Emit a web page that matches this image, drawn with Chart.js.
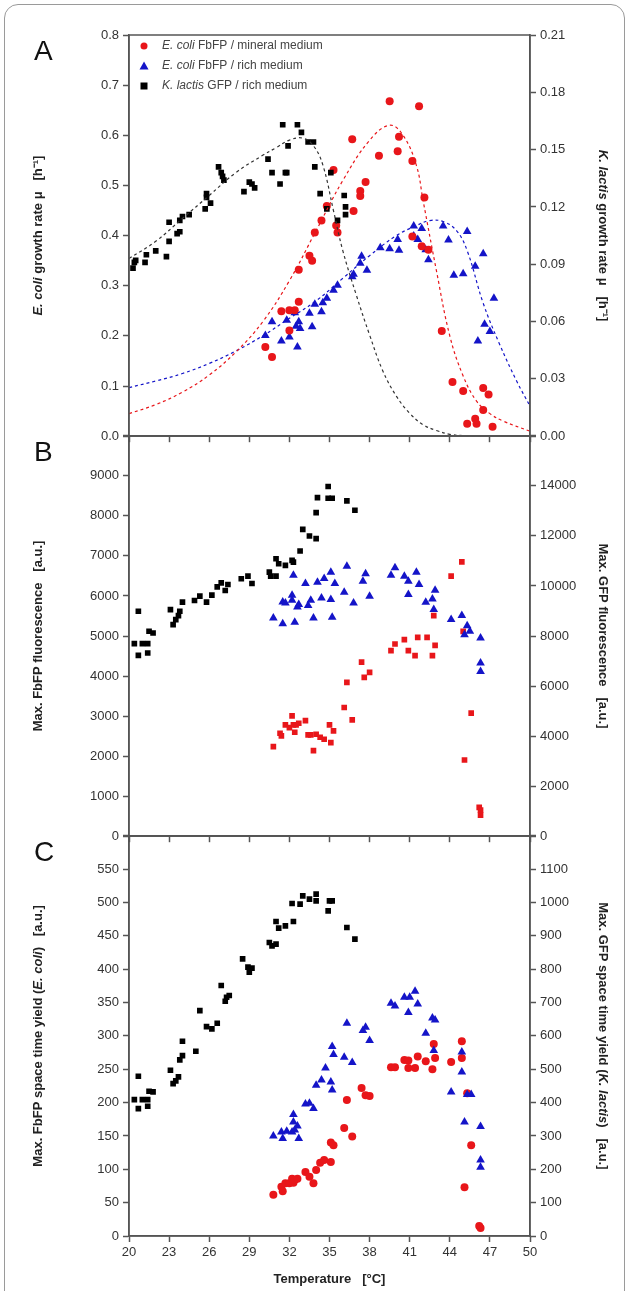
<!DOCTYPE html>
<html>
<head>
<meta charset="utf-8">
<script src="https://cdn.jsdelivr.net/npm/chart.js@4"></script>
<style>
  body { margin: 0; background: #fff; }
  #wrap { position: relative; width: 629px; height: 1291px; overflow: hidden; }
  #frame { position: absolute; left: 4px; top: 4px; width: 619px; height: 1310px;
           border: 1px solid #9a9a9a; border-radius: 14px; }
  canvas { position: absolute; left: 0; }
</style>
</head>
<body>
<div id="wrap">
  <div id="frame"></div>
  <canvas id="cA" width="629" height="448" style="top:0px"></canvas>
  <canvas id="cB" width="629" height="424" style="top:424px"></canvas>
  <canvas id="cC" width="629" height="467" style="top:824px"></canvas>
</div>
<script>
// ---------- Panel A: growth rate ----------
const aRedX = [30.2,30.7,31.4,32.0,32.0,32.4,32.7,32.7,33.5,33.7,33.9,34.4,34.8,35.5,35.6,35.3,36.7,36.8,37.3,37.3,37.7,38.7,39.5,40.1,40.2,41.2,41.7,42.1,41.9,42.4,43.4,44.2,45.0,45.3,45.9,46.0,46.5,46.5,46.9,47.2,41.2];
const aRedY = [0.178,0.158,0.249,0.251,0.211,0.251,0.268,0.332,0.360,0.350,0.406,0.430,0.459,0.420,0.406,0.531,0.592,0.449,0.489,0.479,0.507,0.559,0.668,0.568,0.597,0.549,0.658,0.476,0.379,0.372,0.210,0.108,0.090,0.025,0.035,0.025,0.052,0.096,0.083,0.019,0.398];
const aBlueX = [30.2,30.7,31.4,31.8,32.0,32.4,32.5,32.6,32.7,32.8,33.5,33.7,33.9,34.5,34.4,34.8,35.3,35.6,36.7,36.8,37.3,37.4,37.8,38.8,39.5,40.1,40.2,41.3,41.3,41.6,41.9,42.2,42.4,43.5,43.9,44.3,45.0,45.3,45.9,46.1,46.5,46.6,47.0,47.3];
const aBlueY = [0.201,0.228,0.190,0.231,0.198,0.246,0.219,0.178,0.228,0.215,0.245,0.218,0.263,0.266,0.248,0.275,0.291,0.301,0.318,0.323,0.345,0.359,0.331,0.376,0.374,0.392,0.371,0.419,0.399,0.392,0.414,0.372,0.352,0.419,0.391,0.321,0.324,0.408,0.339,0.190,0.364,0.223,0.209,0.275];
// K. lactis on the right axis (h^-1)
const aBlackX = [20.3,20.4,20.5,21.2,21.3,22.0,22.8,23.0,23.0,23.6,23.8,23.8,24.0,24.5,25.7,25.8,25.8,26.1,26.7,26.9,27.0,27.1,28.6,29.0,29.2,29.4,30.4,30.7,31.3,31.5,31.7,31.8,31.9,32.6,32.9,33.4,33.8,33.9,34.3,34.8,35.1,35.6,36.1,36.2,36.2];
const aBlackY = [0.088,0.091,0.092,0.091,0.095,0.097,0.094,0.102,0.112,0.106,0.107,0.113,0.115,0.116,0.119,0.125,0.127,0.122,0.141,0.138,0.136,0.134,0.128,0.133,0.132,0.130,0.145,0.138,0.132,0.163,0.138,0.138,0.152,0.163,0.159,0.154,0.154,0.141,0.127,0.119,0.138,0.113,0.126,0.120,0.116];
// fitted curves
const fitRedX = [20,22,24,26,28,30,32,34,36,38,39.5,40.5,41.5,42,43,44,45,46,47,48,50];
const fitRedY = [0.045,0.063,0.088,0.122,0.168,0.228,0.31,0.41,0.51,0.59,0.62,0.6,0.54,0.47,0.33,0.2,0.12,0.07,0.045,0.03,0.01];
const fitBlueX = [20,22,24,26,28,30,32,34,36,38,40,41.5,42.5,43.5,44.5,45.3,46.5,47.7,49,50];
const fitBlueY = [0.097,0.11,0.125,0.145,0.17,0.2,0.235,0.27,0.315,0.36,0.4,0.42,0.43,0.428,0.41,0.37,0.265,0.185,0.11,0.06];
const fitBlackX = [20,22,24,26,28,30,31,32,33,33.8,34.5,35.3,36,37,38,39,40,41,42,43,44,45,47];
const fitBlackY = [0.093,0.102,0.114,0.126,0.138,0.147,0.151,0.155,0.156,0.152,0.142,0.118,0.097,0.074,0.053,0.034,0.021,0.012,0.006,0.003,0.001,0.0003,0];

// ---------- Panel B: fluorescence ----------
const bRedX = [30.8,31.3,31.4,31.7,32.0,32.2,32.3,32.4,32.5,32.7,33.2,33.4,33.6,33.8,34.0,34.3,34.6,35.0,35.1,35.3,36.1,36.3,36.7,37.4,37.6,38.0,39.6,39.9,40.6,40.9,41.4,41.6,42.3,42.7,42.9,42.8,44.1,44.9,45.0,45.1,45.6,46.2,46.3,46.3];
const bRedY = [2237,2571,2504,2780,2713,3005,2780,2596,2780,2821,2888,2529,2529,2137,2546,2471,2421,2780,2337,2629,3214,3840,2905,4349,3965,4090,4633,4800,4908,4633,4508,4967,4967,4508,4766,5509,6494,6853,5117,1903,3072,718,526,651];
const bBlueX = [30.8,31.5,31.5,31.7,32.2,32.2,32.3,32.4,32.6,32.7,33.2,33.4,33.6,33.8,34.1,34.4,34.6,35.1,35.1,35.2,35.4,36.1,36.3,36.8,37.5,37.7,38.0,39.6,39.9,40.6,40.9,40.9,41.5,41.7,42.2,42.7,42.8,42.9,44.1,44.9,45.1,45.3,45.5,46.3,46.3,46.3];
const bBlueY = [5451,5309,5851,5826,6018,5893,6519,5342,5726,5785,6310,5760,5893,5451,6344,5952,6436,5910,6594,5467,6310,6093,6745,5826,6369,6553,5993,6519,6703,6494,6369,6035,6594,6285,5843,5927,5659,6144,5409,5509,5033,5259,5117,4950,4324,4115];
const bBlackX = [20.4,20.7,20.7,21.0,21.4,21.4,21.5,21.8,23.1,23.3,23.5,23.7,23.8,24.0,24.9,25.3,25.8,26.2,26.6,26.9,27.2,27.4,28.4,28.9,29.2,30.5,30.6,31.0,31.0,31.2,31.7,32.2,32.3,32.8,33.0,33.5,34.0,34.0,34.1,34.9,34.9,35.2,36.3,36.9];
const bBlackY = [7695,7227,8990,7695,7695,7320,8190,8120,9057,8456,8656,8816,8990,9351,9418,9591,9351,9631,9965,10126,9818,10059,10286,10393,10099,10553,10393,10393,11088,10887,10820,11021,10954,11395,12263,11996,11889,12931,13532,13973,13505,13505,13398,13024];

// ---------- Panel C: space time yield ----------
const cRedX = [30.8,31.4,31.5,31.7,32.0,32.2,32.3,32.4,32.6,33.2,33.5,33.8,34.0,34.3,34.6,35.1,35.1,35.3,36.1,36.3,36.7,37.4,37.7,38.0,39.6,39.9,40.6,40.9,40.9,41.4,41.6,42.2,42.7,42.8,42.9,44.1,44.9,44.9,45.1,45.3,45.6,46.2,46.3];
const cRedY = [62,74,67,79,79,86,80,84,86,96,89,79,99,110,114,111,140,136,162,204,149,222,211,210,253,253,264,263,252,252,269,262,250,288,267,261,292,267,73,214,136,15,12];
const cBlueX = [30.8,31.4,31.5,31.8,32.2,32.3,32.3,32.4,32.6,32.7,33.2,33.5,33.8,34.0,34.4,34.7,35.1,35.2,35.2,35.3,36.1,36.3,36.7,37.5,37.7,38.0,39.6,39.9,40.6,40.9,41.0,41.4,41.6,42.2,42.7,42.9,42.8,44.1,44.9,44.9,45.1,45.3,45.6,46.3,46.3,46.3];
const cBlueY = [150,156,146,157,156,171,182,159,165,146,198,199,191,226,234,252,231,284,219,272,268,319,260,308,313,293,349,345,358,335,358,367,348,304,327,324,278,216,276,246,171,212,212,164,114,103];
const cBlackX = [20.4,20.7,20.7,21.0,21.4,21.4,21.5,21.8,23.1,23.3,23.5,23.7,23.8,24.0,24.0,25.0,25.3,25.8,26.2,26.6,26.9,27.2,27.3,27.5,28.5,28.9,29.0,29.2,30.5,30.7,31.0,31.0,31.2,31.7,32.2,32.3,32.8,33.0,33.5,34.0,34.0,35.0,34.9,35.2,36.3,36.9];
const cBlackY = [409,382,479,409,409,389,434,432,497,457,465,477,528,541,584,554,676,628,621,638,751,704,716,721,831,806,791,803,880,870,875,943,923,930,997,943,995,1020,1010,1025,1005,1005,975,1005,925,890];

const RED = '#e8161a', BLUE = '#1414c8', BLACK = '#000';
const tickFont = { family: 'Liberation Sans, Arial, sans-serif', size: 13 };
const zip = (xs, ys) => xs.map((x, i) => ({ x, y: ys[i] }));

function drawRich(ctx, parts, x, y, rotate) {
    ctx.save();
    ctx.translate(x, y);
    if (rotate) ctx.rotate(rotate);
    ctx.textBaseline = 'middle';
    let total = 0;
    parts.forEach(p => { ctx.font = p[1]; total += ctx.measureText(p[0]).width; });
    let cx = -total / 2;
    parts.forEach(p => {
        ctx.font = p[1];
        ctx.fillStyle = '#222';
        ctx.fillText(p[0], cx, 0);
        cx += ctx.measureText(p[0]).width;
    });
    ctx.restore();
}

const B = 'bold 13px Liberation Sans, Arial, sans-serif';
const BI = 'italic bold 13px Liberation Sans, Arial, sans-serif';

function scatter(label, data, color, shape, axis) {
    return {
        type: 'scatter', label, data, yAxisID: axis,
        pointStyle: shape, backgroundColor: color, borderColor: color,
        pointRadius: shape === 'triangle' ? 5 : 4, borderWidth: 0,
    };
}
function fit(data, color, axis) {
    return {
        type: 'line', data, yAxisID: axis, borderColor: color, borderWidth: 1.2,
        borderDash: [3, 3], pointRadius: 0, tension: 0.4, fill: false,
    };
}

function yAxis(pos, max, step, decimals, hideTop) {
    return {
        position: pos, min: 0, max,
        afterFit: s => { s.width = pos === 'left' ? 129 : 99; },
        ticks: {
            stepSize: step, color: '#333', font: tickFont, padding: 4,
            callback: v => (hideTop && Math.abs(v - max) < 1e-9) ? '' : v.toFixed(decimals),
        },
        grid: { drawOnChartArea: false, tickLength: 6, color: '#555', tickWidth: 1.5 },
        border: { color: '#555', width: 1.5 },
    };
}
function xAxis(showLabels) {
    return {
        type: 'linear', min: 20, max: 50,
        afterFit: s => { if (!showLabels) s.height = 6; },
        ticks: { stepSize: 3, display: showLabels, color: '#333', font: tickFont },
        grid: { drawOnChartArea: false, tickLength: 6, color: '#555', tickWidth: 1.5 },
        border: { color: '#555', width: 1.5 },
        title: { display: showLabels, text: 'Temperature   [°C]', font: { family: tickFont.family, size: 13, weight: 'bold' }, color: '#222', padding: { top: 10 } },
    };
}

function textPlugin(letter, leftParts, rightParts, extra) {
    return {
        id: 'texts',
        afterDraw(chart) {
            const { ctx, chartArea: a } = chart;
            ctx.save();
            ctx.strokeStyle = '#555'; ctx.lineWidth = 1.5;
            ctx.strokeRect(a.left, a.top, a.right - a.left, a.bottom - a.top);
            ctx.fillStyle = '#111';
            ctx.font = '28px Liberation Sans, Arial, sans-serif';
            ctx.textBaseline = 'middle';
            ctx.fillText(letter, 34, a.top + 17);
            ctx.restore();
            const mid = (a.top + a.bottom) / 2;
            drawRich(ctx, leftParts, 38, mid, -Math.PI / 2);
            drawRich(ctx, rightParts, 603, mid, Math.PI / 2);
            if (extra) extra(ctx, a);
        },
    };
}

function legendA(ctx, a) {
    const rows = [
        [RED, 'circle', [['E. coli', 'italic 12px Liberation Sans, Arial'], [' FbFP / mineral medium', '12px Liberation Sans, Arial']]],
        [BLUE, 'triangle', [['E. coli', 'italic 12px Liberation Sans, Arial'], [' FbFP / rich medium', '12px Liberation Sans, Arial']]],
        [BLACK, 'rect', [['K. lactis', 'italic 12px Liberation Sans, Arial'], [' GFP / rich medium', '12px Liberation Sans, Arial']]],
    ];
    rows.forEach((r, i) => {
        const y = a.top + 11 + i * 20, x = a.left + 15;
        ctx.save();
        ctx.fillStyle = r[0];
        ctx.beginPath();
        if (r[1] === 'circle') ctx.arc(x, y, 3.5, 0, Math.PI * 2);
        else if (r[1] === 'triangle') { ctx.moveTo(x, y - 4.5); ctx.lineTo(x + 4.5, y + 3.5); ctx.lineTo(x - 4.5, y + 3.5); ctx.closePath(); }
        else ctx.rect(x - 3.5, y - 3.5, 7, 7);
        ctx.fill();
        ctx.textBaseline = 'middle';
        let cx = x + 18;
        r[2].forEach(p => { ctx.font = p[1]; ctx.fillStyle = '#444'; ctx.fillText(p[0], cx, y); cx += ctx.measureText(p[0]).width; });
        ctx.restore();
    });
}

const baseOpts = (padTop, scales) => ({
    responsive: false, animation: false,
    layout: { padding: { top: padTop, left: 0, right: 0, bottom: 0 } },
    plugins: { legend: { display: false }, tooltip: { enabled: false } },
    scales,
});

new Chart(document.getElementById('cA'), {
    data: { datasets: [
        fit(zip(fitBlackX, fitBlackY), '#333', 'y2'),
        fit(zip(fitRedX, fitRedY), RED, 'y'),
        fit(zip(fitBlueX, fitBlueY), BLUE, 'y'),
        scatter('K. lactis', zip(aBlackX, aBlackY), BLACK, 'rect', 'y2'),
        scatter('E. coli mineral', zip(aRedX, aRedY), RED, 'circle', 'y'),
        scatter('E. coli rich', zip(aBlueX, aBlueY), BLUE, 'triangle', 'y'),
    ] },
    options: baseOpts(35, { x: xAxis(false), y: yAxis('left', 0.8, 0.1, 1, false), y2: yAxis('right', 0.21, 0.03, 2, false) }),
    plugins: [textPlugin('A', [['E. coli', BI], [' growth rate μ   [h⁻¹]', B]], [['K. lactis', BI], [' growth rate μ   [h⁻¹]', B]], legendA)],
});

new Chart(document.getElementById('cB'), {
    data: { datasets: [
        scatter('K. lactis', zip(bBlackX, bBlackY), BLACK, 'rect', 'y2'),
        scatter('E. coli rich', zip(bBlueX, bBlueY), BLUE, 'triangle', 'y'),
        scatter('E. coli mineral', zip(bRedX, bRedY), RED, 'rect', 'y'),
    ] },
    options: baseOpts(6, { x: xAxis(false), y: yAxis('left', 10000, 1000, 0, true), y2: yAxis('right', 16000, 2000, 0, true) }),
    plugins: [textPlugin('B', [['Max. FbFP fluorescence   [a.u.]', B]], [['Max. GFP fluorescence   [a.u.]', B]])],
});

new Chart(document.getElementById('cC'), {
    data: { datasets: [
        scatter('K. lactis', zip(cBlackX, cBlackY), BLACK, 'rect', 'y2'),
        scatter('E. coli rich', zip(cBlueX, cBlueY), BLUE, 'triangle', 'y'),
        scatter('E. coli mineral', zip(cRedX, cRedY), RED, 'circle', 'y'),
    ] },
    options: baseOpts(6, { x: Object.assign(xAxis(true), { afterFit: s => { s.height = 55; } }), y: yAxis('left', 600, 50, 0, true), y2: yAxis('right', 1200, 100, 0, true) }),
    plugins: [textPlugin('C', [['Max. FbFP space time yield (', B], ['E. coli', BI], [')   [a.u.]', B]], [['Max. GFP space time yield (', B], ['K. lactis', BI], [')   [a.u.]', B]])],
});
</script>
</body>
</html>
